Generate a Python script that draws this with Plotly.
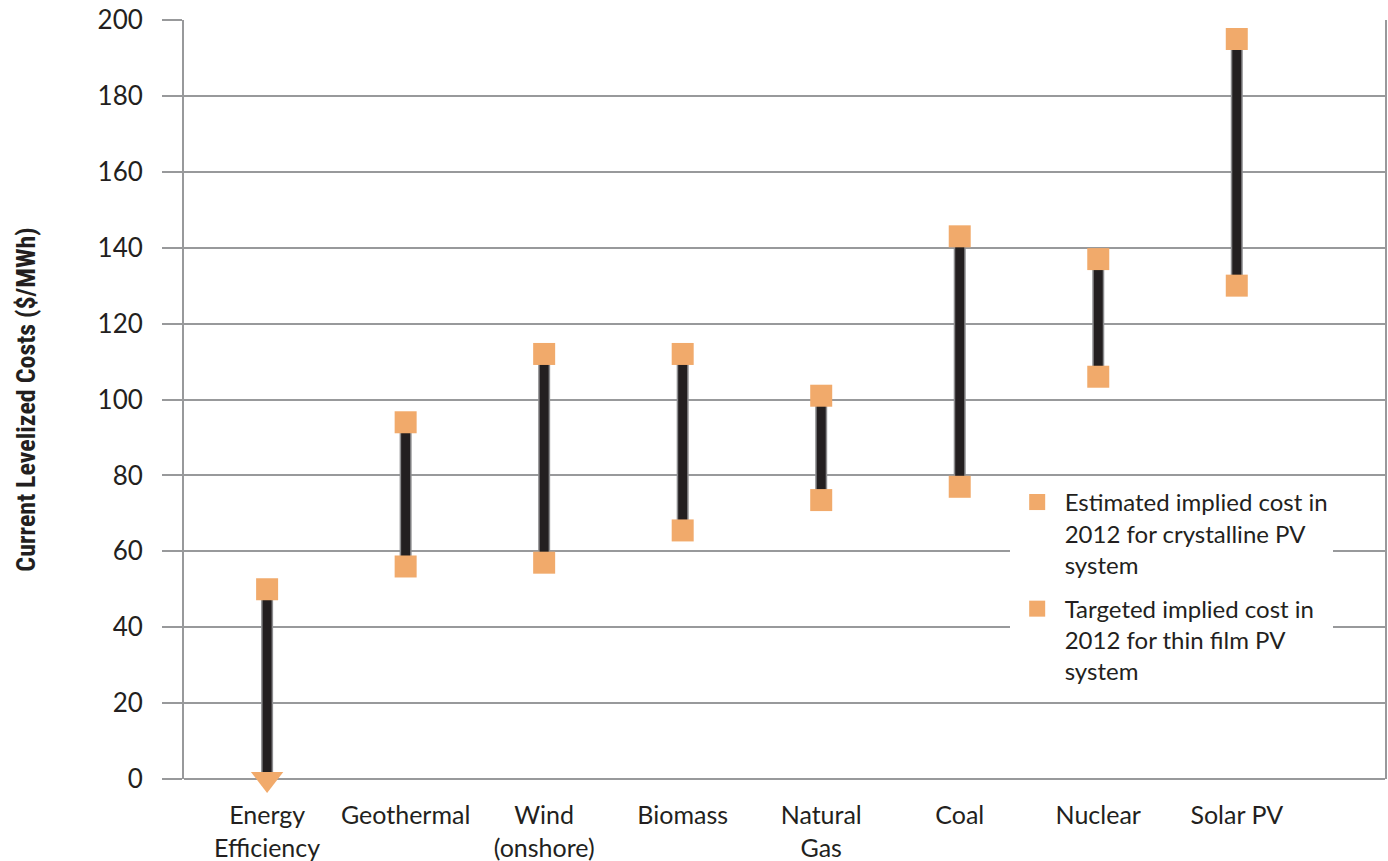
import plotly.graph_objects as go

categories = ["Energy<br>Efficiency", "Geothermal", "Wind<br>(onshore)", "Biomass",
              "Natural<br>Gas", "Coal", "Nuclear", "Solar PV"]
high_values = [50, 94, 112, 112, 101, 143, 137, 195]
low_values = [0, 56, 57, 65.5, 73.5, 77, 106, 130]
series_names = ["Estimated implied cost in<br>2012 for crystalline PV<br>system",
                "Targeted implied cost in<br>2012 for thin film PV<br>system"]
y_ticks = [0, 20, 40, 60, 80, 100, 120, 140, 160, 180, 200]

ORANGE = "#F1AA6B"
GRID = "#98999B"
DARK = "#231F20"
FONT = "Lato, 'Open Sans', sans-serif"
NARROW = "'Liberation Sans Narrow', 'Roboto Condensed', Roboto, sans-serif"

# high-low connector lines
lx, ly = [], []
for c, lo, hi in zip(categories, low_values, high_values):
    lx += [c, c, None]
    ly += [lo, hi, None]

# low values: squares, except values at zero (open-ended) drawn as down-triangles
sq_x = [c for c, v in zip(categories, low_values) if v > 0]
sq_y = [v for v in low_values if v > 0]
tri_x = [c for c, v in zip(categories, low_values) if v <= 0]
tri_y = [v for v in low_values if v <= 0]

fig = go.Figure()
fig.add_trace(go.Scatter(x=lx, y=ly, mode="lines", line=dict(color="#8C8C8E", width=12),
                         showlegend=False, hoverinfo="skip"))
fig.add_trace(go.Scatter(x=lx, y=ly, mode="lines", line=dict(color=DARK, width=9),
                         showlegend=False, hoverinfo="skip"))
fig.add_trace(go.Scatter(x=categories, y=high_values, mode="markers", name=series_names[0],
                         legendgroup="high",
                         marker=dict(symbol="square", size=22, color=ORANGE, opacity=1)))
fig.add_trace(go.Scatter(x=sq_x, y=sq_y, mode="markers", name=series_names[1],
                         legendgroup="low",
                         marker=dict(symbol="square", size=22, color=ORANGE, opacity=1)))
fig.add_trace(go.Scatter(x=tri_x, y=tri_y, mode="markers", showlegend=False, cliponaxis=False,
                         legendgroup="low",
                         marker=dict(symbol="triangle-down", size=28, color=ORANGE, opacity=1)))

fig.update_layout(
    width=1388, height=861,
    margin=dict(l=184, r=3, t=20, b=82, autoexpand=False),
    paper_bgcolor="white", plot_bgcolor="white",
    font=dict(family=FONT, color="#231F20", size=24),
    legend=dict(x=0.6875, y=0.394, xanchor="left", yanchor="top",
                bgcolor="white", font=dict(size=24, family=FONT),
                itemwidth=45, tracegroupgap=10, valign="top"),
    xaxis=dict(type="category", range=[-0.6, 8.07], showgrid=False, showline=False,
               zeroline=False, ticks="", tickfont=dict(size=25, family=FONT),
               ticklabelstandoff=19, automargin=False),
    yaxis=dict(range=[0, 200], tickvals=y_ticks, showgrid=True, gridcolor=GRID, gridwidth=2,
               zeroline=True, zerolinecolor=GRID, zerolinewidth=2,
               showline=True, linecolor=GRID, linewidth=2, mirror=True,
               ticks="outside", ticklen=20, tickcolor=GRID, tickwidth=2,
               tickfont=dict(size=26, family=FONT), ticklabelstandoff=14, automargin=False,
               title=dict(text="Current Levelized Costs ($/MWh)", standoff=54,
                          font=dict(size=26, family=NARROW, weight="bold"))),
)

fig.write_html("out.html", config={"displayModeBar": False},
               post_script="document.body.style.margin='0';")
